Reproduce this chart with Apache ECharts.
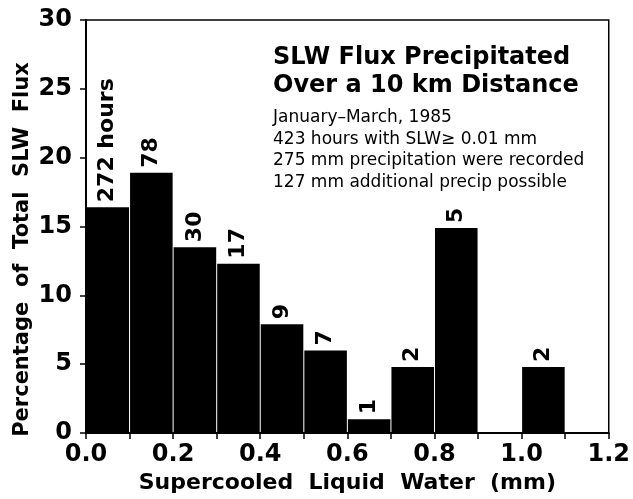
<!DOCTYPE html>
<html>
<head>
<meta charset="utf-8">
<script src="https://cdn.jsdelivr.net/npm/echarts@6/dist/echarts.min.js"></script>
<style>html,body{margin:0;padding:0;background:#fff;}#chart{width:633px;height:499px;}</style>
</head>
<body>
<div id="chart"></div>
<script>
// Histogram bins (mm of supercooled liquid water)
const binStarts = [0.0, 0.1, 0.2, 0.3, 0.4, 0.5, 0.6, 0.7, 0.8, 1.0];
const binEnds   = [0.1, 0.2, 0.3, 0.4, 0.5, 0.6, 0.7, 0.8, 0.9, 1.1];
// Percentage of total SLW flux
const percentages = [16.4, 18.9, 13.5, 12.3, 7.9, 6.0, 1.0, 4.8, 14.9, 4.8];
// Hours labels above bars
const hourLabels = ['272 hours', '78', '30', '17', '9', '7', '1', '2', '5', '2'];
// Axis ticks
const xTicks = { min: 0, max: 1.2, interval: 0.2 };
const yTicks = { min: 0, max: 30, interval: 5 };
const titleLines = ['SLW Flux Precipitated', 'Over a 10 km Distance'];
const infoLines = [
  'January\u2013March, 1985',
  '423 hours with SLW\u2265 0.01 mm',
  '275 mm precipitation were recorded',
  '127 mm additional precip possible'
];

const data = binStarts.map((s, i) => [s, binEnds[i], percentages[i]]);

const chart = echarts.init(document.getElementById('chart'), null, { renderer: 'canvas' });

function renderItem(params, api) {
  const x0 = api.value(0), x1 = api.value(1), y = api.value(2);
  const p0 = api.coord([x0, y]);
  const p1 = api.coord([x1, 0]);
  return {
    type: 'group',
    children: [
      {
        type: 'rect',
        shape: { x: p0[0] + 0.5, y: p0[1], width: p1[0] - p0[0] - 1, height: p1[1] - p0[1] },
        style: { fill: '#000' }
      },
      {
        type: 'text',
        x: (p0[0] + p1[0]) / 2,
        y: p0[1] - 5,
        rotation: Math.PI / 2,
        style: {
          text: hourLabels[params.dataIndex],
          fontFamily: 'DejaVu Sans',
          fontWeight: 'bold',
          fontSize: 22,
          fill: '#000',
          align: 'left',
          verticalAlign: 'middle'
        }
      }
    ]
  };
}

const axisFont = { fontFamily: 'DejaVu Sans', fontWeight: 'bold', fontSize: 24, color: '#000' };

chart.setOption({
  animation: false,
  backgroundColor: '#fff',
  title: [
    {
      text: titleLines.join('\n'),
      left: 273, top: 44, padding: 0,
      textStyle: { fontFamily: 'DejaVu Sans', fontWeight: 'bold', fontSize: 24, lineHeight: 28, color: '#000' }
    },
    {
      text: infoLines.join('\n'),
      left: 273, top: 107, padding: 0,
      textStyle: { fontFamily: 'DejaVu Sans', fontWeight: 'normal', fontSize: 17, lineHeight: 21.5, color: '#000' }
    }
  ],
  grid: {
    left: 86, right: 24, top: 20, bottom: 65,
    show: true, borderColor: '#000', borderWidth: 1.5, backgroundColor: 'transparent'
  },
  xAxis: {
    type: 'value',
    min: xTicks.min, max: xTicks.max, interval: xTicks.interval,
    name: 'Supercooled  Liquid  Water  (mm)',
    nameLocation: 'middle', nameGap: 39, nameMoveOverlap: false,
    nameTextStyle: { fontFamily: 'DejaVu Sans', fontWeight: 'bold', fontSize: 22, color: '#000' },
    axisLine: { show: true, lineStyle: { color: '#000', width: 2 } },
    axisTick: { show: true, length: 6, lineStyle: { color: '#000', width: 1.5 } },
    minorTick: { show: true, splitNumber: 2, length: 6, lineStyle: { color: '#000', width: 1.5 } },
    axisLabel: { ...axisFont, margin: 10, formatter: v => v.toFixed(1) },
    splitLine: { show: false }
  },
  yAxis: {
    type: 'value',
    min: yTicks.min, max: yTicks.max, interval: yTicks.interval,
    name: 'Percentage  of  Total  SLW  Flux',
    nameLocation: 'middle', nameGap: 53, nameMoveOverlap: false,
    nameTextStyle: { fontFamily: 'DejaVu Sans', fontWeight: 'bold', fontSize: 21, color: '#000', padding: [0, 46, 0, 0] },
    axisLine: { show: true, lineStyle: { color: '#000', width: 2 } },
    axisTick: { show: true, length: 6, lineStyle: { color: '#000', width: 1.5 } },
    axisLabel: { ...axisFont, margin: 14 },
    splitLine: { show: false }
  },
  series: [{
    type: 'custom',
    renderItem: renderItem,
    encode: { x: [0, 1], y: 2 },
    data: data,
    clip: false
  }]
});
</script>
</body>
</html>
